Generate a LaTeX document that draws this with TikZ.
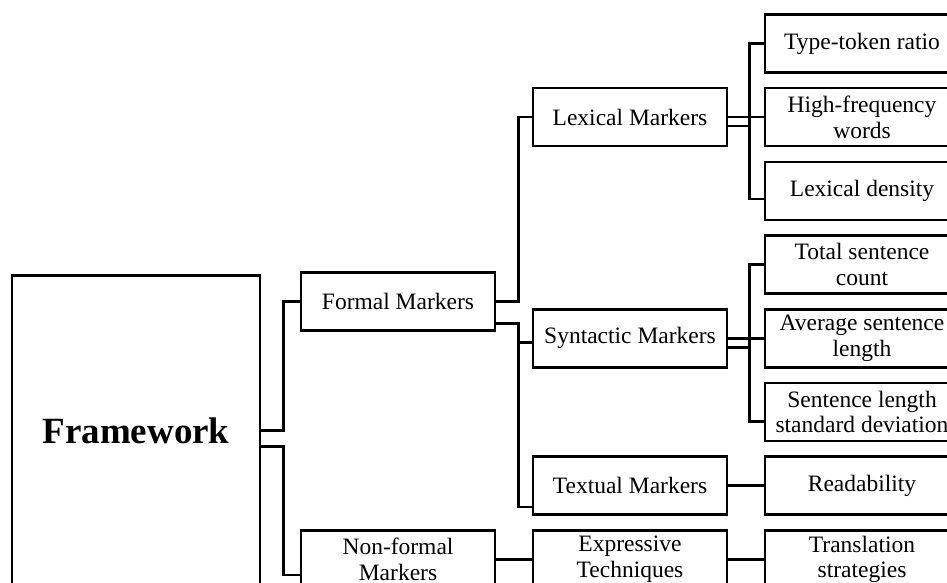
\documentclass[tikz,border=0pt]{standalone}
\usepackage{fontspec}
\setmainfont{Liberation Serif}
\tikzset{
    box/.style={
        draw, line width=2.5pt, minimum width=194pt, minimum height=58pt,
        inner sep=0pt, align=center, font=\fontsize{23.5}{25.5}\selectfont
    },
    link/.style={line width=2.5pt}
}

\begin{document}
\begin{tikzpicture}[x=1pt, y=1pt, line join=miter]

% --- geometry ---
    \def\dy{73.7}     % row pitch
    \def\yo{538.5}    % first row
    \useasboundingbox (0,0) rectangle (947,582);
    \clip (0,0) rectangle (947,582);

% root
    \node[box, minimum width=248pt, minimum height=310pt,
          font=\fontsize{37}{40}\selectfont\bfseries] (fw) at (136,\yo-5.25*\dy) {Framework};

% first level
    \node[box] (formal)    at (398,\yo-3.5*\dy) {Formal Markers};
    \node[box] (nonformal) at (398,\yo-7*\dy)   {Non-formal\\Markers};

% second level
    \node[box] (lexical)    at (630,\yo-\dy)   {Lexical Markers};
    \node[box] (syntactic)  at (630,\yo-4*\dy) {Syntactic Markers};
    \node[box] (textual)    at (630,\yo-6*\dy) {Textual Markers};
    \node[box] (expressive) at (630,\yo-7*\dy) {Expressive\\Techniques};

% leaves
    \node[box] (ttr)   at (862,\yo)        {Type-token ratio};
    \node[box] (hfw)   at (862,\yo-\dy)   {High-frequency\\words};
    \node[box] (lexd)  at (862,\yo-2*\dy) {Lexical density};
    \node[box] (tsc)   at (862,\yo-3*\dy) {Total sentence\\count};
    \node[box] (asl)   at (862,\yo-4*\dy) {Average sentence\\length};
    \node[box] (sld)   at (862,\yo-5*\dy) {Sentence length\\standard deviation};
    \node[box] (read)  at (862,\yo-6*\dy) {Readability};
    \node[box] (trans) at (862,\yo-7*\dy) {Translation\\strategies};

% connectors from the root
    \draw[link] (fw.east) -- ++(22,0) |- (formal.west);
    \draw[link] ([yshift=-16pt]fw.east) -- ++(22,0) |- ([yshift=-15.5pt]nonformal.west);

% connectors from formal markers
    \draw[link] (formal.east) -- ++(22,0) |- (lexical.west);
    \draw[link] ([yshift=-22pt]formal.east) -- ++(22,0) |- ([yshift=-4pt]syntactic.west);
    \draw[link] ([yshift=-22pt]formal.east) -- ++(22,0) |- ([yshift=-21.5pt]textual.west);

% connectors from lexical markers
    \draw[link] (lexical.east) -- (hfw.west);
    \draw[link] ([yshift=-9pt]lexical.east) -- ++(21,0) |- (ttr.west);
    \draw[link] ([yshift=-9pt]lexical.east) -- ++(21,0) |- ([yshift=-8pt]lexd.west);

% connectors from syntactic markers
    \draw[link] (syntactic.east) -- (asl.west);
    \draw[link] ([yshift=-9pt]syntactic.east) -- ++(21,0) |- (tsc.west);
    \draw[link] ([yshift=-9pt]syntactic.east) -- ++(21,0) |- ([yshift=-9.5pt]sld.west);

% single links
    \draw[link] (textual.east) -- (read.west);
    \draw[link] (nonformal.east) -- (expressive.west);
    \draw[link] (expressive.east) -- (trans.west);

\end{tikzpicture}
\end{document}
